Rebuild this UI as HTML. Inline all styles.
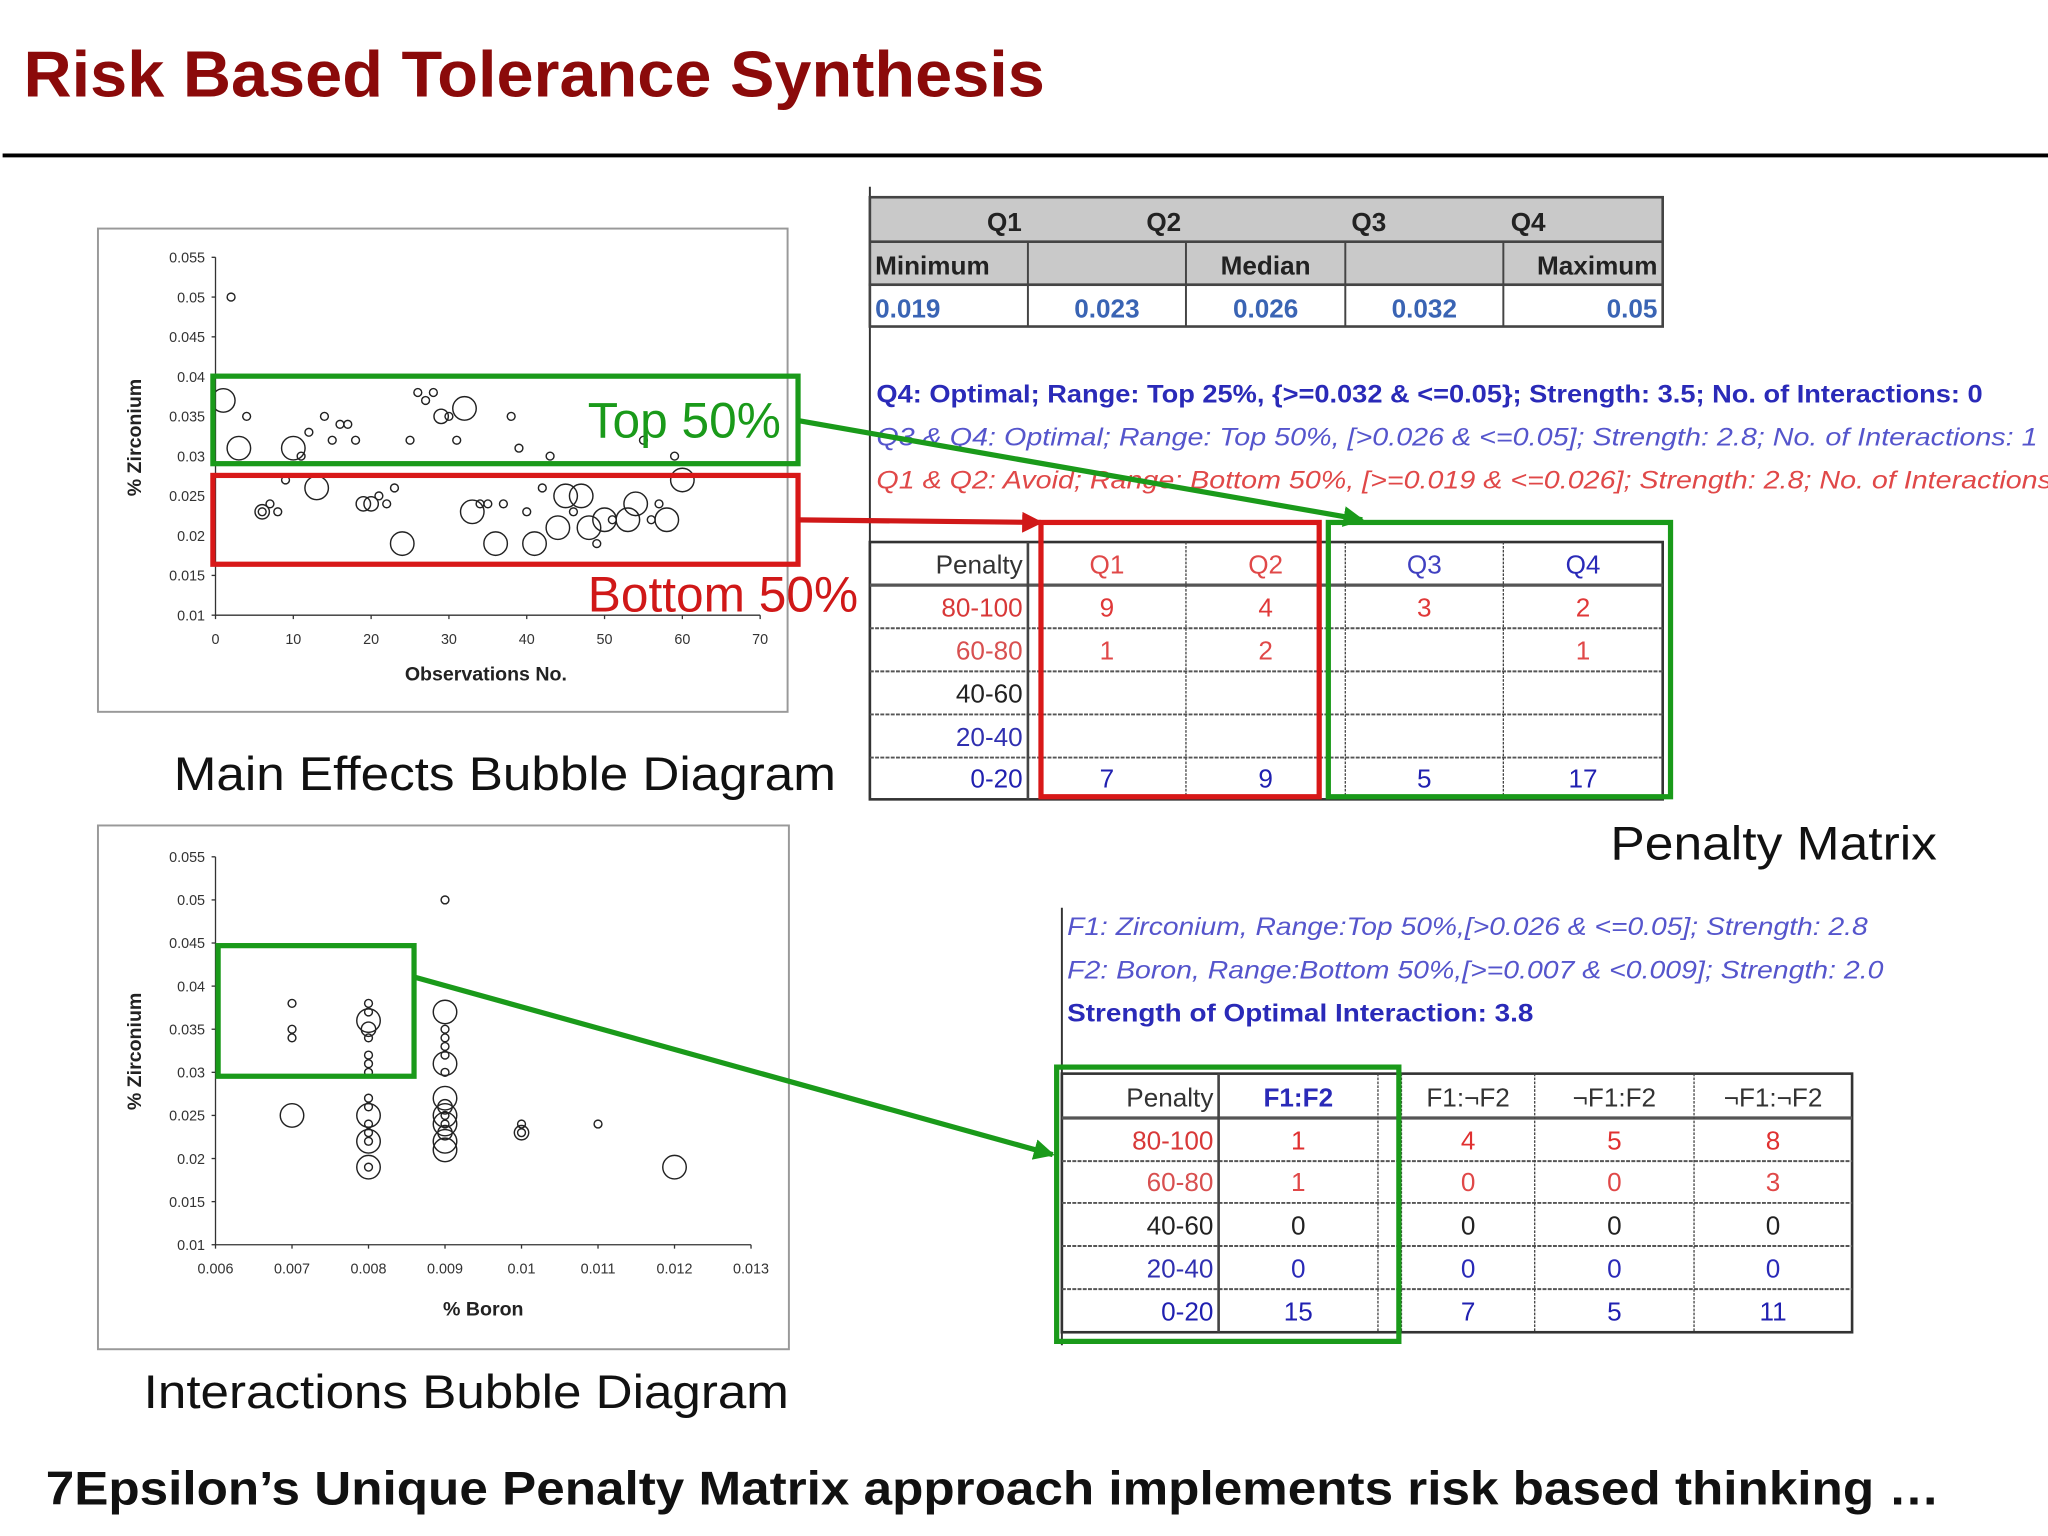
<!DOCTYPE html>
<html><head><meta charset="utf-8"><style>
html,body{margin:0;padding:0;background:#fff;}
svg{display:block;}
text{font-family:"Liberation Sans",sans-serif;}
.n{font-family:"Liberation Sans Narrow","Liberation Sans",sans-serif;}
</style></head><body>
<svg id="s" width="2048" height="1536" viewBox="0 0 1568 1176" xmlns="http://www.w3.org/2000/svg">
<defs>
<marker id="ag" viewBox="0 0 10 10" refX="9" refY="5" markerWidth="4" markerHeight="4" orient="auto"><path d="M0,0L10,5L0,10z" fill="#1a9a1a"/></marker>
<marker id="ar" viewBox="0 0 10 10" refX="9" refY="5" markerWidth="4" markerHeight="4" orient="auto"><path d="M0,0L10,5L0,10z" fill="#d01818"/></marker>
</defs>
<text x="18" y="74" font-size="50" font-weight="bold" fill="#8b0a0a" textLength="782" lengthAdjust="spacingAndGlyphs">Risk Based Tolerance Synthesis</text>
<line x1="2" y1="119" x2="1568" y2="119" stroke="#000" stroke-width="3"/>

<rect x="75" y="175" width="528" height="370" fill="#fff" stroke="#999" stroke-width="1.5"/>
<g id="c1"></g>
<text x="133" y="605" font-size="36" fill="#111" textLength="507" lengthAdjust="spacingAndGlyphs">Main Effects Bubble Diagram</text>

<rect x="75" y="632" width="529" height="401" fill="#fff" stroke="#999" stroke-width="1.5"/>
<g id="c2"></g>
<text x="110" y="1078" font-size="36" fill="#111" textLength="494" lengthAdjust="spacingAndGlyphs">Interactions Bubble Diagram</text>

<line x1="666" y1="143" x2="666" y2="612" stroke="#333" stroke-width="1.5"/>
<g id="t1"></g>
<g class="n" font-size="19">
<text x="671" y="308" font-weight="bold" fill="#2a2ab8" class="n" textLength="847" lengthAdjust="spacingAndGlyphs">Q4: Optimal; Range: Top 25%, {&gt;=0.032 &amp; &lt;=0.05}; Strength: 3.5; No. of Interactions: 0</text>
<text x="671" y="341" font-style="italic" fill="#5555cc" class="n" textLength="889" lengthAdjust="spacingAndGlyphs">Q3 &amp; Q4: Optimal; Range: Top 50%, [&gt;0.026 &amp; &lt;=0.05]; Strength: 2.8; No. of Interactions: 1</text>
<text x="671" y="374" font-style="italic" fill="#e04848" class="n" textLength="900" lengthAdjust="spacingAndGlyphs">Q1 &amp; Q2: Avoid; Range: Bottom 50%, [&gt;=0.019 &amp; &lt;=0.026]; Strength: 2.8; No. of Interactions</text>
</g>
<g id="t2"></g>
<text x="1233" y="658" font-size="36" fill="#111" textLength="250" lengthAdjust="spacingAndGlyphs">Penalty Matrix</text>

<line x1="813" y1="695" x2="813" y2="1030" stroke="#333" stroke-width="1.5"/>
<g class="n" font-size="19">
<text x="817" y="716" font-style="italic" fill="#5555cc" class="n" textLength="613" lengthAdjust="spacingAndGlyphs">F1: Zirconium, Range:Top 50%,[&gt;0.026 &amp; &lt;=0.05]; Strength: 2.8</text>
<text x="817" y="749" font-style="italic" fill="#5555cc" class="n" textLength="625" lengthAdjust="spacingAndGlyphs">F2: Boron, Range:Bottom 50%,[&gt;=0.007 &amp; &lt;0.009]; Strength: 2.0</text>
<text x="817" y="782" font-weight="bold" fill="#2a2ab8" class="n" textLength="357" lengthAdjust="spacingAndGlyphs">Strength of Optimal Interaction: 3.8</text>
</g>
<g id="t3"></g>

<g id="ov"></g>
<text x="35" y="1152" font-size="36" font-weight="bold" fill="#111" textLength="1450" lengthAdjust="spacingAndGlyphs">7Epsilon’s Unique Penalty Matrix approach implements risk based thinking …</text>
</svg>
<script>
// ---- chart 1 data ----
const c1Obs = [2,1,4,3,10,11,12,14,15,16,17,18,25,26,27,28,29,30,32,31,38,39,43,55,59,60,9,6,7,8,6,13,19,20,21,22,23,24,33,34,35,37,36,40,41,42,44,45,47,46,48,49,50,51,53,54,56,57,58];
const c1Zr  = [0.05,0.037,0.035,0.031,0.031,0.030,0.033,0.035,0.032,0.034,0.034,0.032,0.032,0.038,0.037,0.038,0.035,0.035,0.036,0.032,0.035,0.031,0.030,0.032,0.030,0.027,0.027,0.023,0.024,0.023,0.023,0.026,0.024,0.024,0.025,0.024,0.026,0.019,0.023,0.024,0.024,0.024,0.019,0.023,0.019,0.026,0.021,0.025,0.025,0.023,0.021,0.019,0.022,0.022,0.022,0.024,0.022,0.024,0.022];
const c1Size= [1,3,1,3,3,1,1,1,1,1,1,1,1,1,1,1,2,1,3,1,1,1,1,1,1,3,1,2,1,1,1,3,2,2,1,1,1,3,3,1,1,1,3,1,3,1,3,3,3,1,3,1,3,1,3,3,1,1,3];
const c1XTicks = [0,10,20,30,40,50,60,70];
const c1YTicks = [0.01,0.015,0.02,0.025,0.03,0.035,0.04,0.045,0.05,0.055];
// ---- chart 2 data ----
const c2B  = [0.007,0.007,0.007,0.007, 0.008,0.008,0.008,0.008,0.008,0.008,0.008,0.008,0.008,0.008,0.008,0.008,0.008,0.008,0.008,0.008,0.008, 0.009,0.009,0.009,0.009,0.009,0.009,0.009,0.009,0.009,0.009,0.009,0.009,0.009,0.009,0.009,0.009,0.009, 0.010,0.010,0.010,0.011,0.012];
const c2Zr = [0.038,0.035,0.034,0.025, 0.038,0.037,0.036,0.035,0.034,0.032,0.031,0.030,0.027,0.026,0.025,0.024,0.023,0.022,0.022,0.019,0.019, 0.050,0.037,0.035,0.034,0.033,0.032,0.031,0.030,0.027,0.026,0.025,0.024,0.023,0.022,0.021,0.025,0.024, 0.024,0.023,0.023,0.024,0.019];
const c2Size=[1,1,1,3, 1,1,3,2,1,1,1,1,1,1,3,1,1,3,1,3,1, 1,3,1,1,1,1,3,1,3,2,3,3,2,3,3,1,1, 1,2,1,1,3];
const c2XTicks = [0.006,0.007,0.008,0.009,0.01,0.011,0.012,0.013];
const c2YTicks = [0.01,0.015,0.02,0.025,0.03,0.035,0.04,0.045,0.05,0.055];
// ---- tables ----
const t1Quarters = ['Q1','Q2','Q3','Q4'];
const t1Labels = ['Minimum','','Median','','Maximum'];
const t1Values = ['0.019','0.023','0.026','0.032','0.05'];
const pmRows = ['80-100','60-80','40-60','20-40','0-20'];
const pmCols = ['Q1','Q2','Q3','Q4'];
const pmVals = [['9','4','3','2'],['1','2','','1'],['','','',''],['','','',''],['7','9','5','17']];
const imCols = ['F1:F2','F1:¬F2','¬F1:F2','¬F1:¬F2'];
const imVals = [['1','4','5','8'],['1','0','0','3'],['0','0','0','0'],['0','0','0','0'],['15','7','5','11']];

const NS='http://www.w3.org/2000/svg';
function mk(parent,tag,attrs,txt){const e=document.createElementNS(NS,tag);for(const k in attrs)e.setAttribute(k,attrs[k]);if(txt!==undefined)e.textContent=txt;parent.appendChild(e);return e;}
const R=[0,3,5.5,9];

function chart(g,xs,ys,sz,xt,yt,x0,x1,px0,px1,py0,py1,xlab,ylabY,xlabX,xlabY,fmtX){
  const X=v=>px0+(v-x0)/(x1-x0)*(px1-px0);
  const Y=v=>py0-(v-0.01)/(0.055-0.01)*(py0-py1);
  let a=mk(g,'line',{x1:px0,y1:py1,x2:px0,y2:py0,stroke:'#333','stroke-width':1});
  
  a=mk(g,'line',{x1:px0,y1:py0,x2:px1,y2:py0,stroke:'#333','stroke-width':1});
  
  yt.forEach(v=>{mk(g,'line',{x1:px0-3,x2:px0,y1:Y(v),y2:Y(v),stroke:'#333'});
    const t=mk(g,'text',{x:px0-8,y:Y(v)+4,'font-size':11,'text-anchor':'end',fill:'#333'},String(v));
    });
  xt.forEach(v=>{mk(g,'line',{x1:X(v),x2:X(v),y1:py0,y2:py0+3,stroke:'#333'});
    const t=mk(g,'text',{x:X(v),y:py0+22,'font-size':11,'text-anchor':'middle',fill:'#333'},fmtX(v));
    });
  let t=mk(g,'text',{x:xlabX,y:xlabY,'font-size':15,'font-weight':'bold','text-anchor':'middle',fill:'#222'},xlab);
  
  t=mk(g,'text',{x:0,y:0,'font-size':15,'font-weight':'bold','text-anchor':'middle',fill:'#222',transform:`translate(108,${ylabY}) rotate(-90)`},'% Zirconium');
  
  xs.forEach((v,i)=>{const c=mk(g,'circle',{cx:X(v),cy:Y(ys[i]),r:R[sz[i]],fill:'none',stroke:'#222','stroke-width':1.1});
    });
}
chart(document.getElementById('c1'),c1Obs,c1Zr,c1Size,c1XTicks,c1YTicks,0,70,165,582,471,197,'Observations No.',335,372,521,v=>String(v));
chart(document.getElementById('c2'),c2B,c2Zr,c2Size,c2XTicks,c2YTicks,0.006,0.013,165,575,953,656,'% Boron',805,370,1007,v=>v.toFixed(3).replace(/0+$/,'').replace(/\.$/,''));

function cellText(g,x,y,s,fill,anchor,extra){const a=Object.assign({x:x,y:y,'font-size':20,fill:fill,'text-anchor':anchor,class:'n'},extra||{});const t=mk(g,'text',a,s);return t;}

// table 1
(function(){const g=document.getElementById('t1');const cx=[666,787,908,1030,1151,1273];
  mk(g,'rect',{x:666,y:151,width:607,height:67,fill:'#c9c9c9',stroke:'#444','stroke-width':2});
  mk(g,'rect',{x:666,y:218,width:607,height:32,fill:'#fff',stroke:'#444','stroke-width':2});
  mk(g,'line',{x1:666,x2:1273,y1:185,y2:185,stroke:'#444','stroke-width':2});
  for(let i=1;i<5;i++)mk(g,'line',{x1:cx[i],x2:cx[i],y1:185,y2:250,stroke:'#444','stroke-width':1.5});
  const qx=[769,891,1048,1170];
  t1Quarters.forEach((q,i)=>cellText(g,qx[i],177,q,'#222','middle',{'font-weight':'bold'}));
  t1Labels.forEach((l,i)=>{if(!l)return;const anc=i===0?'start':(i===4?'end':'middle');const x=i===0?670:(i===4?1269:(cx[i]+cx[i+1])/2);cellText(g,x,210,l,'#222',anc,{'font-weight':'bold'});});
  t1Values.forEach((v,i)=>{const anc=i===0?'start':(i===4?'end':'middle');const x=i===0?670:(i===4?1269:(cx[i]+cx[i+1])/2);cellText(g,x,243,v,'#3a64b4',anc,{'font-weight':'bold'});});
})();

function matrix(g,x0,cols,rowY,colNames,vals,headColors,valColors,gapCol){
  const w=cols[cols.length-1]-x0;
  mk(g,'rect',{x:x0,y:rowY[0],width:w,height:rowY[rowY.length-1]-rowY[0],fill:'#fff',stroke:'#333','stroke-width':2});
  for(let r=1;r<rowY.length-1;r++)mk(g,'line',{x1:x0,x2:x0+w,y1:rowY[r],y2:rowY[r],stroke:'#555','stroke-width':r===1?2.5:1.5,'stroke-dasharray':r===1?'':'3,1'});
  for(let c=1;c<cols.length-1;c++)mk(g,'line',{x1:cols[c],x2:cols[c],y1:rowY[0],y2:rowY[rowY.length-1],stroke:'#444','stroke-width':c===1?2:1,'stroke-dasharray':c===1?'':'2,1'});
  cellText(g,cols[1]-4,rowY[1]-9,'Penalty','#333','end');
  const rc=['#d83838','#d85050','#222','#3030b0','#2020b0'];
  const dc=[1,2,3,4].map(i=>i+(gapCol&&i>=2?1:0));
  colNames.forEach((n,i)=>{const c=dc[i];cellText(g,(cols[c]+cols[c+1])/2,rowY[1]-9,n,headColors[i],'middle',headColors[i]==='#2a2ab8'&&i===0?{'font-weight':'bold'}:{});});
  pmRows.forEach((r,ri)=>{cellText(g,cols[1]-4,rowY[ri+2]-9,r,rc[ri],'end');
    vals[ri].forEach((v,i)=>{const c=dc[i];cellText(g,(cols[c]+cols[c+1])/2,rowY[ri+2]-9,v,valColors[ri],'middle');});});
}
matrix(document.getElementById('t2'),666,[666,787,908,1030,1151,1273],[415,448,481,514,547,580,612],pmCols,pmVals,['#e04848','#e04848','#4040c0','#2a2ab8'],['#e03838','#e04848','#222','#2020b0','#2020b0'],false);
matrix(document.getElementById('t3'),813,[813,933,1055,1073,1175,1297,1418],[822,856,889,921,954,987,1020],imCols,imVals,['#2a2ab8','#333','#333','#333'],['#e03030','#e04848','#222','#2a2ab8','#2020b0'],true);

// overlays
(function(){const g=document.getElementById('ov');
  let e;
  e=mk(g,'rect',{x:163,y:288,width:448,height:67,fill:'none',stroke:'#1a9a1a','stroke-width':4});
  e=mk(g,'rect',{x:163,y:364,width:448,height:68,fill:'none',stroke:'#d81818','stroke-width':4});
  e=mk(g,'text',{x:450,y:335,'font-size':38,fill:'#1a9a1a'},'Top 50%');
  e=mk(g,'text',{x:450,y:468,'font-size':38,fill:'#d01818'},'Bottom 50%');
  e=mk(g,'line',{x1:611,y1:322,x2:1043,y2:398,stroke:'#1a9a1a','stroke-width':4,'marker-end':'url(#ag)'});
  e=mk(g,'line',{x1:611,y1:398,x2:797,y2:400,stroke:'#d01818','stroke-width':4,'marker-end':'url(#ar)'});
  e=mk(g,'rect',{x:797,y:400,width:213,height:210,fill:'none',stroke:'#d81818','stroke-width':4});
  e=mk(g,'rect',{x:1017,y:400,width:262,height:210,fill:'none',stroke:'#1a9a1a','stroke-width':4});
  e=mk(g,'rect',{x:167,y:724,width:150,height:100,fill:'none',stroke:'#1a9a1a','stroke-width':4});
  e=mk(g,'line',{x1:317,y1:748,x2:806,y2:884,stroke:'#1a9a1a','stroke-width':4,'marker-end':'url(#ag)'});
  e=mk(g,'rect',{x:809,y:817,width:262,height:210,fill:'none',stroke:'#1a9a1a','stroke-width':4});
})();
</script>
</body></html>
